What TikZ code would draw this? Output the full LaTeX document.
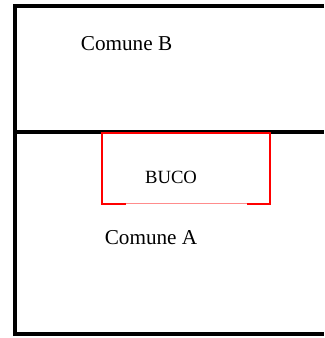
\documentclass[tikz,border=0pt]{standalone}
\usepackage{fontspec}
\setmainfont{Liberation Serif}
\usepackage{xcolor}

\begin{document}
\begin{tikzpicture}[x=0.75pt,y=-0.75pt,
  confine/.style={line width=3pt},
  buco/.style={red,line width=1.5pt},
  label/.style={inner sep=0pt,font=\fontsize{15.9}{18}\selectfont}]
\useasboundingbox (0,0) rectangle (324,338);

% Outer frame, open on the right
\draw[confine] (324,6) -- (14.5,6) -- (14.5,333.5) -- (324,333.5);
% Border between the two comuni
\draw[confine] (14.5,132) -- (324,132);

% Hole on the border
\coordinate (bl) at (102,203.5);
\coordinate (br) at (270,203.5);
\draw[buco] (126,203.5) -- (bl) -- (102,133.5) -- (270,133.5) -- (br) -- (247,203.5);
\draw[red!45, line width=0.5pt] (126,203.5) -- (247,203.5);

% Labels
\node[label] (comuneB) at (126.5,44) {Comune B};
\node[label,font=\fontsize{14}{16}\selectfont] (buco) at (171,177) {BUCO};
\node[label] (comuneA) at (151,237.5) {Comune A};
\end{tikzpicture}
\end{document}
